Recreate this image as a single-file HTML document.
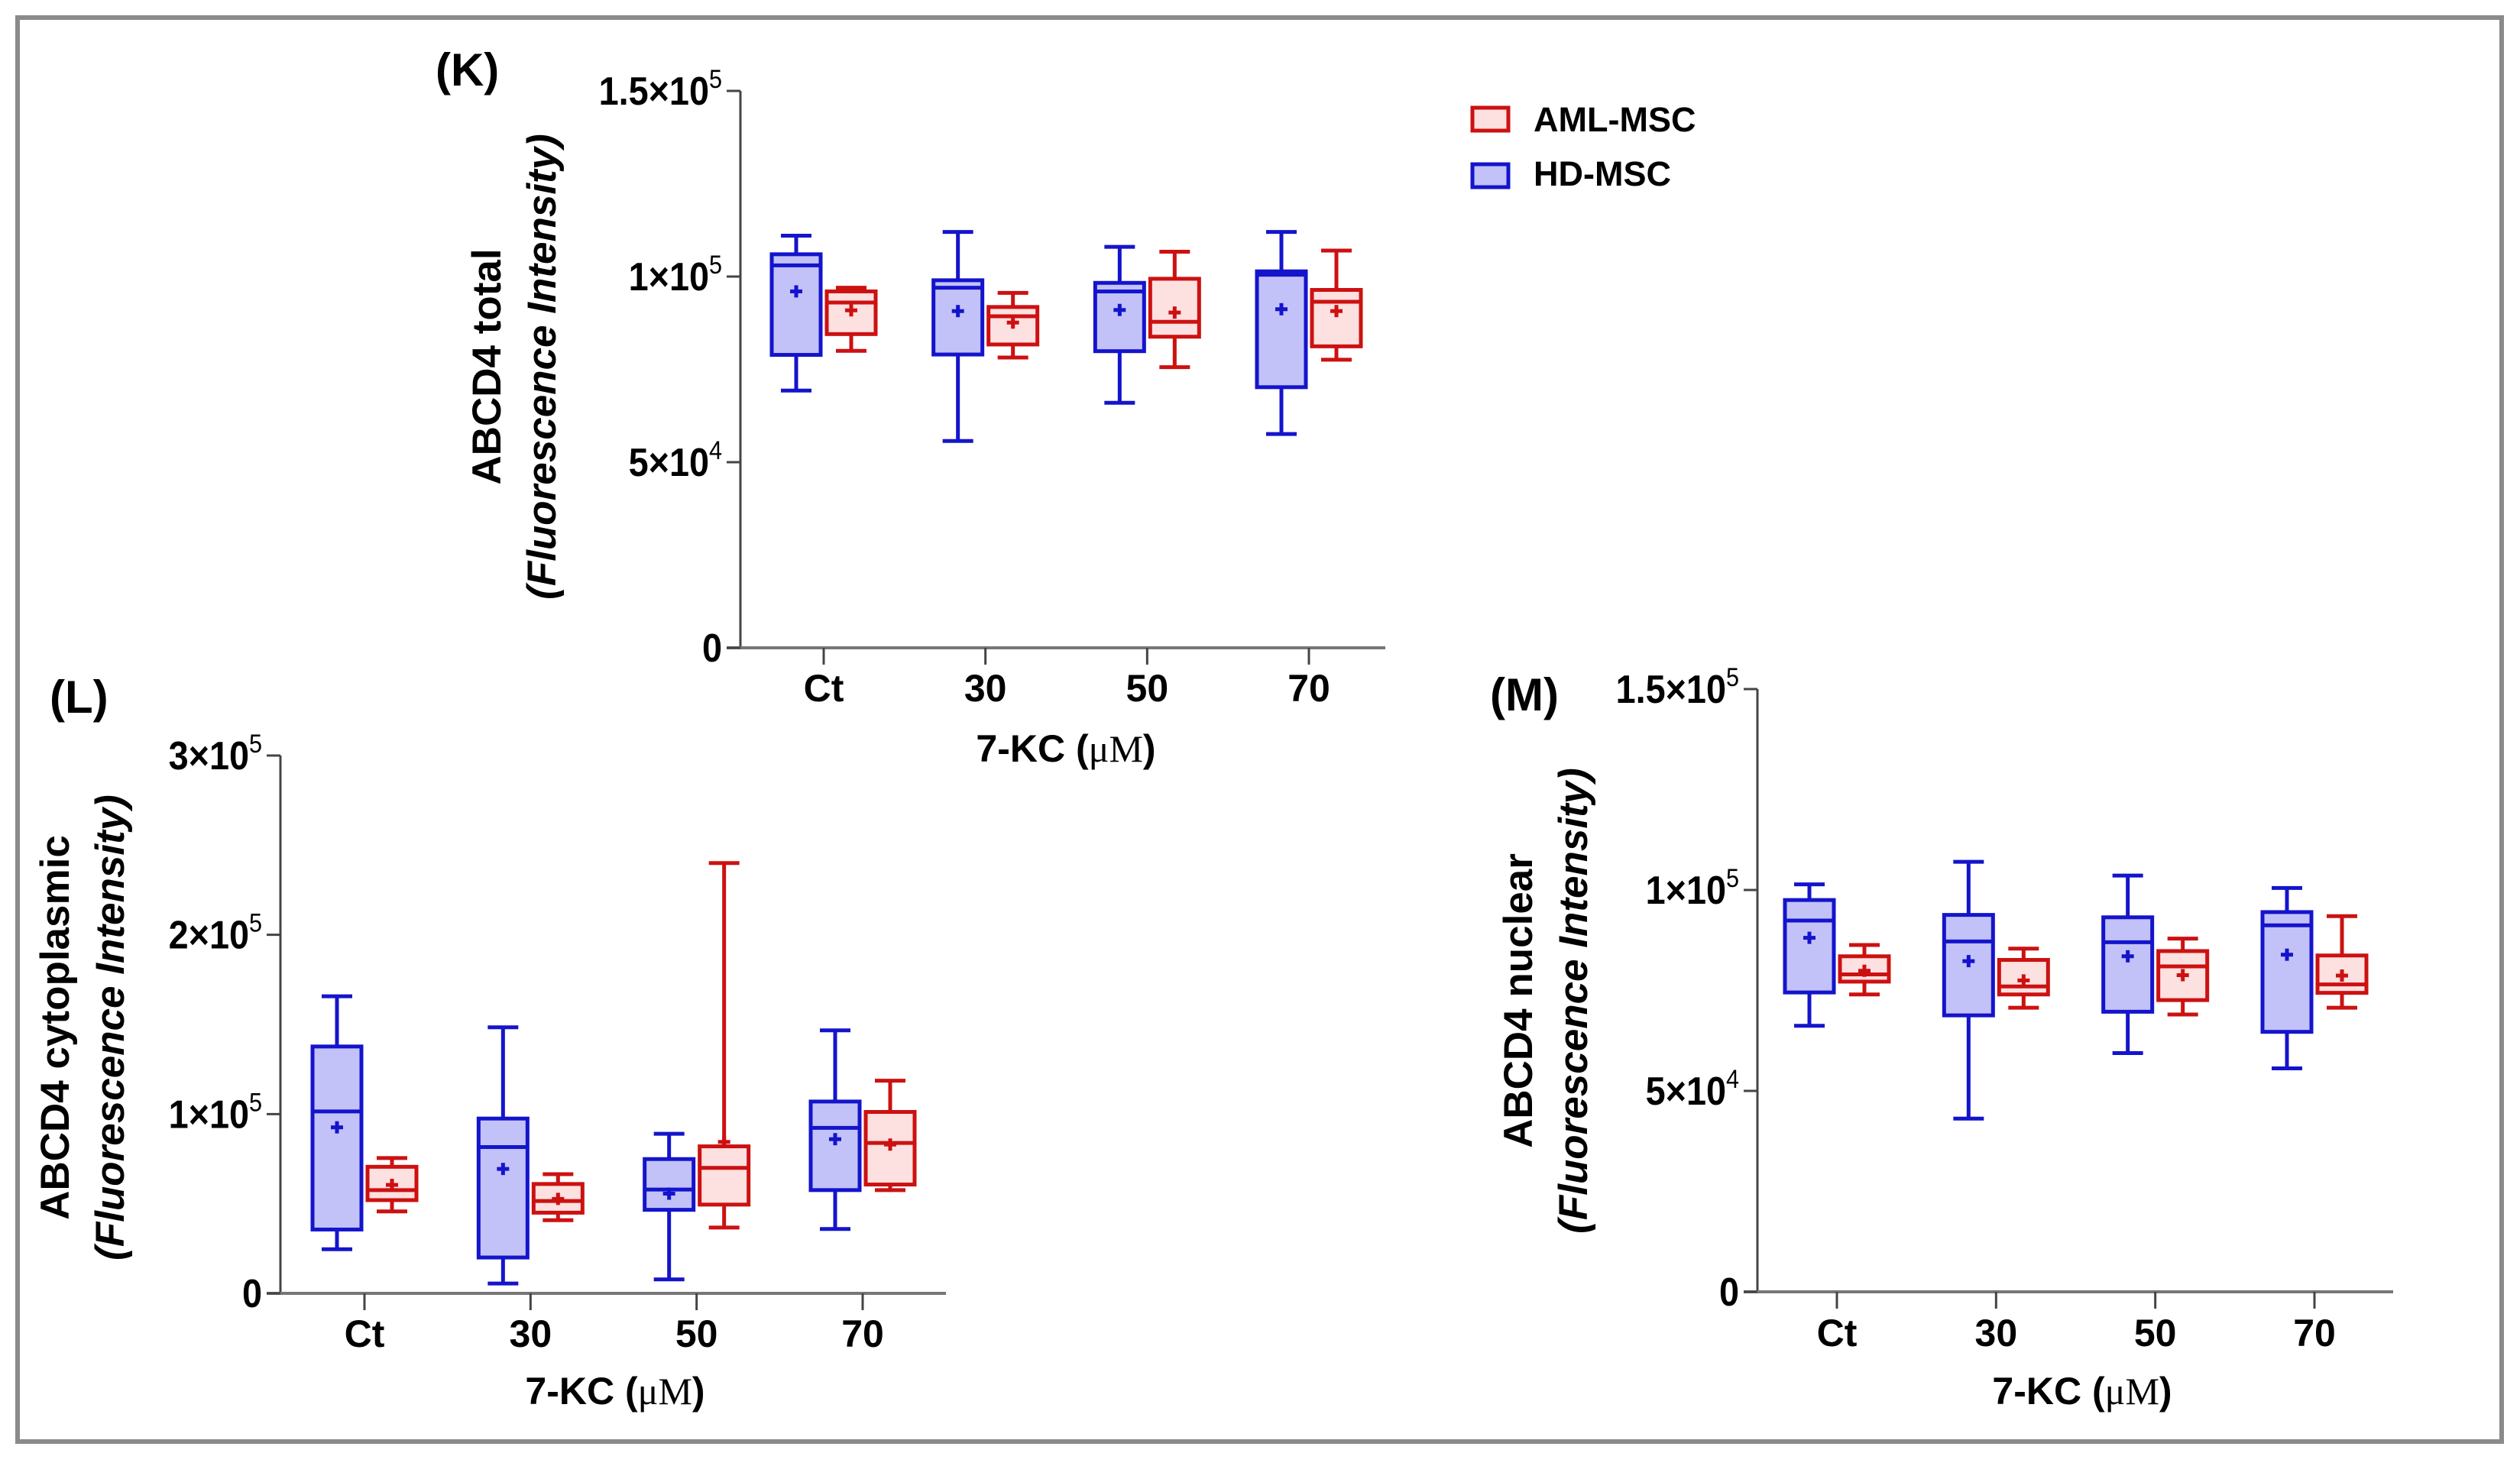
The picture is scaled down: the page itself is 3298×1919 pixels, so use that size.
<!DOCTYPE html>
<html><head><meta charset="utf-8"><style>
html,body{margin:0;padding:0;background:#fff;}
svg{display:block;font-family:"Liberation Sans",Arial,sans-serif;}
</style></head><body>
<svg id="fig" width="3298" height="1919" viewBox="0 0 3298 1919" xmlns="http://www.w3.org/2000/svg">
<rect x="23" y="23" width="3251" height="1864" fill="#fff" stroke="#8a8a8a" stroke-width="6"/>
<g>
<rect x="1927" y="141" width="47" height="30" fill="#fde0e0" stroke="#cc1111" stroke-width="5"/>
<text x="2007" y="172" font-size="45" font-weight="bold">AML-MSC</text>
<rect x="1927" y="215" width="47" height="30" fill="#c2c2f8" stroke="#1414cc" stroke-width="5"/>
<text x="2007" y="243" font-size="45" font-weight="bold">HD-MSC</text>
</g>
</svg>
<script>
const categories = ["Ct","30","50","70"];
// [min,q1,median,q3,max,mean] per category
const kHD  = [[69.3,78.9,103,106,111,96],[55.7,79,97,99,112,90.7],[66,79.9,96,98.3,108,91],[57.6,70.2,100.5,101.4,112,91.2]];
const kAML = [[80,84.5,93,96,97,90.9],[78.2,81.7,89.3,91.8,95.6,87.6],[75.6,83.8,87.8,99.4,106.7,90.3],[77.6,81.2,93.2,96.4,107,90.7]];
const lHD  = [[24.6,35.6,101.5,137.7,165.7,92.6],[5.5,20,81.6,97.5,148.4,69.4],[7.8,46.6,57.9,74.9,89,55.6],[35.9,57.6,92.3,107,146.7,86]];
const lAML = [[45.7,52,57.6,70.6,75.5,60.5],[40.8,45,51.5,61,66.5,52.7],[36.7,49.5,70,82,240,84.5],[57.6,60.7,83.9,101.2,118.6,83]];
const mHD  = [[66.2,74.5,92.4,97.5,101.4,88.1],[43.1,68.8,87.2,93.8,107,82.3],[59.4,69.7,87,93.2,103.6,83.5],[55.6,64.7,91.2,94.5,100.5,83.9]];
const mAML = [[74,77.2,79,83.5,86.3,79.9],[70.7,74,76,82.6,85.4,77.5],[69,72.6,81,84.8,87.9,78.8],[70.7,74.4,76.5,83.7,93.5,78.7]];
const kTicks = [[0,"0",""],[50,"5×10","4"],[100,"1×10","5"],[150,"1.5×10","5"]];
const lTicks = [[0,"0",""],[100,"1×10","5"],[200,"2×10","5"],[300,"3×10","5"]];
const mTicks = [[0,"0",""],[50,"5×10","4"],[100,"1×10","5"],[150,"1.5×10","5"]];

const NS="http://www.w3.org/2000/svg";
const svg=document.getElementById('fig');
function mk(tag,attrs,parent){const e=document.createElementNS(NS,tag);for(const k in attrs)e.setAttribute(k,attrs[k]);(parent||svg).appendChild(e);return e;}

function panel(cfg){
  const g=mk('g',{});
  
  
  const y=v=>cfg.y0-(v-cfg.ymin)/(cfg.ymax-cfg.ymin)*(cfg.y0-cfg.ytop);
  const x=i=>cfg.cx[0]+i*(cfg.cx[3]-cfg.cx[0])/3;
  const ya=mk('line',{x1:cfg.ax,y1:y(cfg.ymax),x2:cfg.ax,y2:cfg.y0,stroke:'#444','stroke-width':3},g);
  
  
  const xa=mk('line',{x1:cfg.ax-18,y1:cfg.y0,x2:cfg.xend,y2:cfg.y0,stroke:'#777','stroke-width':4},g);
  
  
  cfg.ticks.forEach(t=>{
    const ty=y(t[0]);
    mk('line',{x1:cfg.ax-18,y1:ty,x2:cfg.ax,y2:ty,stroke:'#444','stroke-width':3},g);
    const tx=mk('text',{x:cfg.ax-24,y:ty+18,'font-size':52,'text-anchor':'end','font-weight':'bold','transform':`translate(${cfg.ax-24},0) scale(0.9,1) translate(${-(cfg.ax-24)},0)`},g);
    
    
    if(t[2]){
      const a=mk('tspan',{},tx);a.textContent=t[1];
      const b=mk('tspan',{dy:-22,'font-size':34,'font-weight':'normal'},tx);b.textContent=t[2];
    } else tx.textContent=t[1];
  });
  categories.forEach((c,i)=>{
    const cxp=x(i);
    mk('line',{x1:cxp,y1:cfg.y0,x2:cxp,y2:cfg.y0+22,stroke:'#444','stroke-width':3},g);
    const tl=mk('text',{x:cxp,y:cfg.labY,'font-size':50,'font-weight':'bold','text-anchor':'middle'},g);
    tl.textContent=c;
    
    
  });
  const xt=mk('text',{x:cfg.titleX,y:cfg.titleY,'font-size':50,'font-weight':'bold','text-anchor':'middle'},g);
  
  
  const t1=mk('tspan',{},xt);t1.textContent='7-KC (';
  const t2=mk('tspan',{'font-family':'Liberation Serif, serif','font-weight':'normal'},xt);t2.textContent='μM';
  const t3=mk('tspan',{},xt);t3.textContent=')';
  const yt=mk('text',{transform:`translate(${cfg.ytX},${cfg.ytY}) rotate(-90)`,'font-size':53,'font-weight':'bold','text-anchor':'middle'},g);
  
  
  const l1=mk('tspan',{x:0,y:0},yt);l1.textContent=cfg.ylabel;
  const l2=mk('tspan',{x:0,y:72,'font-style':'italic'},yt);l2.textContent='(Fluorescence Intensity)';
  const pl=mk('text',{x:cfg.plX,y:cfg.plY,'font-size':60,'font-weight':'bold'},g);
  pl.textContent='('+cfg.id+')';
  
  
  const series=[[cfg.hd,-36,'#1414cc','#c2c2f8','hd'],[cfg.aml,36,'#cc1111','#fde0e0','aml']];
  series.forEach(s=>{
    s[0].forEach((d,i)=>{
      const c=x(i)+s[1], hw=32, cap=20;
      const bg=mk('g',{stroke:s[2],'stroke-width':5,fill:'none'},g);
      
      
      mk('line',{x1:c,y1:y(d[0]),x2:c,y2:y(d[1])},bg);
      mk('line',{x1:c,y1:y(d[3]),x2:c,y2:y(d[4])},bg);
      mk('line',{x1:c-cap,y1:y(d[0]),x2:c+cap,y2:y(d[0])},bg);
      mk('line',{x1:c-cap,y1:y(d[4]),x2:c+cap,y2:y(d[4])},bg);
      mk('rect',{x:c-hw,y:y(d[3]),width:2*hw,height:y(d[1])-y(d[3]),fill:s[3]},bg);
      mk('line',{x1:c-hw,y1:y(d[2]),x2:c+hw,y2:y(d[2])},bg);
      mk('line',{x1:c-8,y1:y(d[5]),x2:c+8,y2:y(d[5]),'stroke-width':5},bg);
      mk('line',{x1:c,y1:y(d[5])-8,x2:c,y2:y(d[5])+8,'stroke-width':5},bg);
    });
  });
}
panel({id:'K',hd:kHD,aml:kAML,ticks:kTicks,ymin:0,ymax:150,y0:848,ytop:119,ax:969,xend:1813,cx:[1078,1290,1500,1713],labY:918,titleX:1395,titleY:997,ytX:655,ytY:480,ylabel:'ABCD4 total',plX:570,plY:112});
panel({id:'L',hd:lHD,aml:lAML,ticks:lTicks,ymin:0,ymax:300,y0:1693,ytop:989,ax:367,xend:1238,cx:[477,694,912,1129],labY:1763,titleX:805,titleY:1838,ytX:90,ytY:1345,ylabel:'ABCD4 cytoplasmic',plX:65,plY:933});
panel({id:'M',hd:mHD,aml:mAML,ticks:mTicks,ymin:0,ymax:150,y0:1691,ytop:902,ax:2300,xend:3132,cx:[2404,2613,2821,3029],labY:1762,titleX:2725,titleY:1838,ytX:2005,ytY:1310,ylabel:'ABCD4 nuclear',plX:1950,plY:930});
</script>
</body></html>
